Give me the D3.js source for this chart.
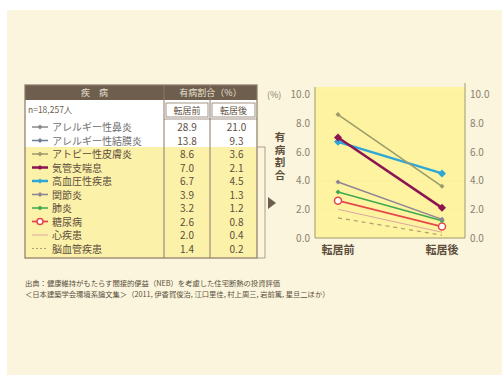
<!DOCTYPE html>
<html><head><meta charset="utf-8">
<script src="https://cdn.jsdelivr.net/npm/d3@7"></script>
<style>html,body{margin:0;padding:0;background:#fff;}svg{display:block;}</style>
</head><body>
<svg id="c" width="502" height="376"></svg>
<script>
const diseases = ["アレルギー性鼻炎","アレルギー性結膜炎","アトピー性皮膚炎","気管支喘息","高血圧性疾患","関節炎","肺炎","糖尿病","心疾患","脳血管疾患"];
const before = [28.9,13.8,8.6,7.0,6.7,3.9,3.2,2.6,2.0,1.4];
const after = [21.0,9.3,3.6,2.1,4.5,1.3,1.2,0.8,0.4,0.2];
const periods = ["転居前","転居後"];
const yTicks = [0,2,4,6,8,10];
const colors = ["#8a8a8a","#6f7f95","#9c9a6a","#8b1550","#2ea7d6","#8f8496","#3ea850","#e5484a","#d9a9a0","#aaa070"];
const markers = ["diamond","diamond","diamond","diamond","diamond","diamond","diamond","circle","none","none"];
const widths = [1.5,1.5,1.5,2.5,2.5,1.5,1.5,1.8,1,1.2];
const dashes = [null,null,null,null,null,null,null,null,null,"4,4"];
const sourceLines = ["出典：健康維持がもたらす間接的便益（NEB）を考慮した住宅断熱の投資評価","＜日本建築学会環境系論文集＞（2011, 伊香賀俊治, 江口里佳, 村上周三, 岩前篤, 星旦二ほか）"];

const svg = d3.select("#c");
const F = "'Noto Sans CJK JP','Noto Sans',sans-serif";
svg.append("rect").attr("x",7).attr("y",10).attr("width",495).attr("height",365).attr("fill","#faf5dc");

// ---- Table ----
const tx0=25, tx1=164, tx2=210, tx3=257;
const rowY = d3.range(10).map(i=>127+i*13.5);
const tTop=85, tBot=258, yellowTop=147;
const tg = svg.append("g");
tg.append("rect").attr("x",tx0).attr("y",tTop).attr("width",tx3-tx0).attr("height",tBot-tTop).attr("fill","#fff");
tg.append("rect").attr("x",tx0).attr("y",yellowTop).attr("width",tx3-tx0).attr("height",tBot-yellowTop).attr("fill","#fbf1a8");
tg.append("rect").attr("x",tx0).attr("y",tTop).attr("width",tx3-tx0).attr("height",15).attr("fill","#6e5e4e");
tg.append("text").attr("x",(tx0+tx1)/2).attr("y",tTop+11).attr("text-anchor","middle").attr("font-family",F).attr("font-size",9).attr("fill","#e8e0d0").text("疾　病");
tg.append("text").attr("x",(tx1+tx3)/2).attr("y",tTop+11).attr("text-anchor","middle").attr("font-family",F).attr("font-size",9).attr("fill","#e8e0d0").text("有病割合（%）");
[[tx1,tx2],[tx2,tx3]].forEach((c,i)=>{
  tg.append("rect").attr("x",c[0]+2).attr("y",tTop+18).attr("width",c[1]-c[0]-4).attr("height",14).attr("fill","#fff").attr("stroke","#8a7a6a").attr("stroke-width",0.8);
  tg.append("text").attr("x",(c[0]+c[1])/2).attr("y",tTop+29).attr("text-anchor","middle").attr("font-family",F).attr("font-size",9).attr("fill","#5e4e3e").text(periods[i]);
});
tg.append("line").attr("x1",tx1).attr("x2",tx3).attr("y1",tTop+34).attr("y2",tTop+34).attr("stroke","#8a7a6a").attr("stroke-width",0.8);
tg.append("text").attr("x",tx0+3).attr("y",tTop+28).attr("font-family",F).attr("font-size",8.5).attr("fill","#6e5e4e").text("n=18,257人");
[tx1,tx2].forEach(x=>tg.append("line").attr("x1",x).attr("x2",x).attr("y1",tTop).attr("y2",tBot).attr("stroke","#8a7a6a").attr("stroke-width",1));
tg.append("rect").attr("x",tx0).attr("y",tTop).attr("width",tx3-tx0).attr("height",tBot-tTop).attr("fill","none").attr("stroke","#8a7a6a").attr("stroke-width",1.2);

function drawMarker(g,type,x,y,col,size){
  if(type==="diamond") g.append("path").attr("d",`M${x},${y-size}L${x+size},${y}L${x},${y+size}L${x-size},${y}Z`).attr("fill",col);
  else if(type==="circle") g.append("circle").attr("cx",x).attr("cy",y).attr("r",size).attr("fill","#fff").attr("stroke",col).attr("stroke-width",1.5);
}
diseases.forEach((d,i)=>{
  const y=rowY[i];
  const g=tg.append("g");
  g.append("line").attr("x1",32).attr("x2",48).attr("y1",y).attr("y2",y).attr("stroke",colors[i]).attr("stroke-width",widths[i]).attr("stroke-dasharray",dashes[i]?"2,2":null);
  drawMarker(g,markers[i],40,y,colors[i],markers[i]==="circle"?3:2.5);
  g.append("text").attr("x",52).attr("y",y+4).attr("font-family",F).attr("font-size",10).attr("fill",i<2?"#707070":"#5e4e3e").text(d);
  g.append("text").attr("x",(tx1+tx2)/2).attr("y",y+4).attr("text-anchor","middle").attr("font-family",F).attr("font-size",10).attr("fill","#5e4e3e").text(before[i].toFixed(1));
  g.append("text").attr("x",(tx2+tx3)/2+3).attr("y",y+4).attr("text-anchor","middle").attr("font-family",F).attr("font-size",10).attr("fill","#5e4e3e").text(after[i].toFixed(1));
});
svg.append("path").attr("d",`M${tx3},${yellowTop}H265V${tBot}H${tx3}`).attr("fill","none").attr("stroke","#9a8a7a").attr("stroke-width",0.8);
svg.append("path").attr("d","M268,197L276,203L268,209Z").attr("fill","#6e5e4e");

// ---- Chart ----
const x = d3.scalePoint().domain(periods).range([338,442]);
const y = d3.scaleLinear().domain([0,10]).range([238,94.5]);
const px0=315, px1=465;
svg.append("rect").attr("x",px0).attr("y",87).attr("width",px1-px0).attr("height",238-87).attr("fill","#fdf3a0");
svg.append("g").selectAll("line").data(yTicks.slice(1)).join("line")
  .attr("x1",px0).attr("x2",px1).attr("y1",d=>y(d)).attr("y2",d=>y(d)).attr("stroke","#fbeea0").attr("stroke-width",0.6);
const axL = svg.append("g").attr("transform",`translate(${px0},0)`).call(d3.axisLeft(y).tickValues(yTicks).tickFormat(d3.format(".1f")).tickSize(0).tickPadding(5));
const axR = svg.append("g").attr("transform",`translate(${px1},0)`).call(d3.axisRight(y).tickValues(yTicks).tickFormat(d3.format(".1f")).tickSize(0).tickPadding(5));
[axL,axR].forEach(a=>{
  a.select(".domain").attr("stroke","#a09a70").attr("stroke-width",1).attr("d", a===axL?"M0,87V238":"M0,83V238");
  a.selectAll("text").attr("font-family",F).attr("font-size",10).attr("fill","#8a8070");
});
svg.append("line").attr("x1",px0).attr("x2",px1).attr("y1",238).attr("y2",238).attr("stroke","#a09a70").attr("stroke-width",1);
svg.append("text").attr("x",267).attr("y",y(10)+3.5).attr("font-family",F).attr("font-size",9).attr("fill","#8a8070").text("(%)");
svg.append("text").attr("x",280).attr("y",132).attr("font-family",F).attr("font-size",10.5).attr("font-weight","bold")
  .attr("fill","#5e4e3e").style("writing-mode","vertical-rl").attr("letter-spacing",2).text("有病割合");
periods.forEach(p=>svg.append("text").attr("x",x(p)).attr("y",254).attr("text-anchor","middle").attr("font-family",F).attr("font-size",11).attr("font-weight","bold").attr("fill","#5e4e3e").text(p));

const plotIdx = d3.range(diseases.length).filter(i=>before[i]<=10);
const lg = svg.append("g");
plotIdx.slice().reverse().forEach(i=>{
  const vals=[before[i],after[i]];
  lg.append("path").attr("d",d3.line().x((d,k)=>x(periods[k])).y(d=>y(d))(vals))
    .attr("fill","none").attr("stroke",colors[i]).attr("stroke-width",widths[i]).attr("stroke-dasharray",dashes[i]);
  vals.forEach((v,k)=>drawMarker(lg,markers[i],x(periods[k]),y(v),colors[i],markers[i]==="circle"?3.5:(widths[i]>2?4:2.5)));
});

sourceLines.forEach((s,i)=>svg.append("text").attr("x",25).attr("y",286+i*11).attr("font-family",F).attr("font-size",7.3).attr("fill","#5a5040").text(s));
</script>
</body></html>
